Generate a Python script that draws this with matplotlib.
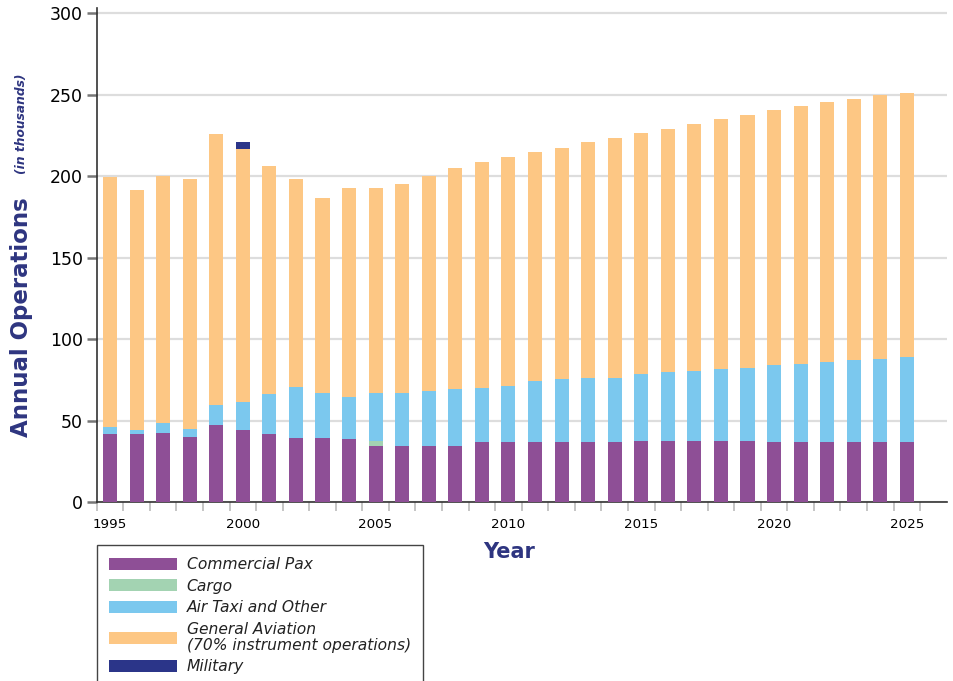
import matplotlib
matplotlib.use("Agg")
import matplotlib.pyplot as plt
import numpy as np

years = list(range(1995, 2026))
commercial_pax = [42, 42, 42.5, 40, 47.6, 44.4, 42, 39.3, 39.3, 38.6, 34.7, 34.7, 34.7, 34.7,
                  36.7, 36.7, 36.7, 36.7, 36.7, 36.7, 37.4, 37.4, 37.4, 37.4, 37.4,
                  36.7, 36.7, 36.7, 36.7, 36.7, 36.7]
cargo = [0, 0, 0, 0, 0, 0, 0, 0, 0, 0, 2.6, 0, 0, 0, 0, 0, 0, 0, 0, 0, 0, 0, 0, 0, 0,
         0, 0, 0, 0, 0, 0]
# cumulative tops (air taxi top, GA top)
air_taxi_top = [46.4, 44.4, 48.9, 45, 59.6, 61.4, 66.5, 70.8, 66.8, 64.7, 66.8, 66.8, 68.0, 69.3,
                69.9, 71.2, 74.3, 75.6, 76.2, 76.0, 78.5, 79.7, 80.3, 81.6, 82.2,
                84.1, 84.7, 86.0, 87.2, 87.9, 89.1]
ga_top = [199.6, 191.8, 200.2, 198.4, 226.0, 216.4, 206.2, 198.4, 186.4, 193.0, 193.0, 195.4,
          200.2, 205.0, 208.6, 211.6, 214.6, 217.6, 221.2, 223.4, 226.8, 229.2, 232.2, 235.2,
          237.6, 240.6, 243.0, 245.4, 247.2, 249.6, 250.8]
military = [0, 0, 0, 0, 0, 4.8, 0, 0, 0, 0, 0, 0, 0, 0, 0, 0, 0, 0, 0, 0, 0, 0, 0, 0, 0,
            0, 0, 0, 0, 0, 0]

cp = np.array(commercial_pax)
cg = np.array(cargo)
air_taxi = np.array(air_taxi_top) - cp - cg
general_aviation = np.array(ga_top) - np.array(air_taxi_top)
mil = np.array(military)

series_labels = ["Commercial Pax", "Cargo", "Air Taxi and Other",
                 "General Aviation\n(70% instrument operations)", "Military"]
colors = ["#8e4f96", "#a3d3b2", "#7bc8ee", "#fdc784", "#2b3589"]
navy = "#2e3580"

plt.rcParams['font.family'] = ['DejaVu Sans']

fig = plt.figure(figsize=(9.54, 6.81), dpi=100)
ax = fig.add_axes([96.7 / 954, 1 - 502.3 / 681, (946.7 - 96.7) / 954, (502.3 - 8.3) / 681])

x = np.array(years)
w = 0.53
bottom = np.zeros(len(years))
handles = []
for vals, c, lab in zip([cp, cg, air_taxi, general_aviation, mil], colors, series_labels):
    b = ax.bar(x, vals, width=w, bottom=bottom, color=c, label=lab, linewidth=0, zorder=3)
    handles.append(b)
    bottom = bottom + vals

ax.set_xlim(1994.5, 2026.5)
ax.set_ylim(0, 303)
ax.set_yticks([0, 50, 100, 150, 200, 250, 300])
ax.set_xticks([1995, 2000, 2005, 2010, 2015, 2020, 2025])
ax.set_xticks(np.arange(1994.5, 2026, 1.0), minor=True)
ax.tick_params(axis='x', which='major', length=0, labelsize=9.7, pad=11)
ax.tick_params(axis='x', which='minor', length=6.5, width=1.2, color='#bbbbbb')
ax.tick_params(axis='y', length=7, width=1.8, color='#777777', labelsize=12.5, pad=3)

ax.grid(axis='y', color='#dddddd', linewidth=1.6, zorder=0)
ax.set_axisbelow(True)
for s in ['top', 'right']:
    ax.spines[s].set_visible(False)
ax.spines['left'].set_color('#333333')
ax.spines['bottom'].set_color('#333333')
ax.spines['left'].set_linewidth(1.2)
ax.spines['bottom'].set_linewidth(1.2)

fig.text(509 / 954, 1 - 552 / 681, "Year", ha='center', va='center', fontsize=15,
         fontweight='bold', color=navy)
fig.text(21.5 / 954, 1 - 437 / 681, "Annual Operations", rotation=90, rotation_mode='anchor',
         ha='left', va='center', fontsize=16.5, fontweight='bold', color=navy)
fig.text(21.5 / 954, 1 - 73 / 681, "(in thousands)", rotation=90, rotation_mode='anchor',
         ha='right', va='center', fontsize=8.8, fontweight='bold', fontstyle='italic', color=navy)

leg = fig.legend(handles, series_labels, loc='upper left',
                 bbox_to_anchor=(96.7 / 954, 1 - 545 / 681), bbox_transform=fig.transFigure,
                 frameon=True, fancybox=False, edgecolor='#444444', framealpha=1,
                 prop={'style': 'oblique', 'size': 11.2}, handlelength=4.35, handleheight=0.85,
                 labelspacing=0.42, borderpad=0.78, handletextpad=0.65, borderaxespad=0)
leg.get_frame().set_linewidth(1.0)
for t in leg.get_texts():
    t.set_color('#222222')
    t.set_linespacing(1.1)

fig.savefig("out.png", dpi=100)
